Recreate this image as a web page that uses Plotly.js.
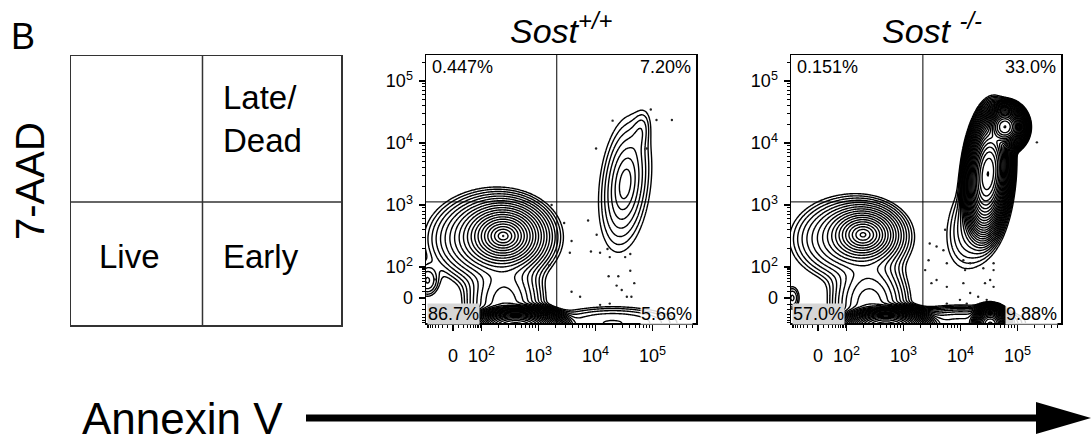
<!DOCTYPE html>
<html>
<head>
<meta charset="utf-8">
<script src="https://cdn.plot.ly/plotly-3.0.1.min.js"></script>
<style>
  html, body { margin: 0; padding: 0; background: #fff; }
  #chart { width: 1091px; height: 444px; }
</style>
</head>
<body>
<div id="chart"></div>
<script>
// ---------- axis ticks (fluorescence units) ----------
const majorTickValues = [0, 100, 1000, 10000, 100000];
const majorTickLabels = ['0', '10<sup>2</sup>', '10<sup>3</sup>', '10<sup>4</sup>', '10<sup>5</sup>'];

// ---------- quadrant frequencies: [UL, UR, LL, LR] ----------
const wtQuadrants = ['0.447%', '7.20%', '86.7%', '5.66%'];
const koQuadrants = ['0.151%', '33.0%', '57.0%', '9.88%'];

// ---------- cell populations on the display scale (decades) ----------
// Sost +/+ : live core, live body, annexin-/7AAD- floor, floor neck,
//            left cluster, late/dead, late/dead upper tail, early tail
const wtCx    = [0.88, 0.65, 1.10, 0.90, -0.45, 3.02, 3.30, 2.80];
const wtCy    = [1.00, 0.95, -0.46, -0.10, 0.28, 1.84, 2.70, -0.40];
const wtSx    = [0.11, 0.47, 0.24, 0.30, 0.12, 0.14, 0.10, 0.75];
const wtSy    = [0.08, 0.32, 0.09, 0.35, 0.15, 0.33, 0.20, 0.17];
const wtRho   = [0.00, 0.00, 0.00, 0.00, 0.00, 0.25, 0.30, 0.00];
const wtPeak  = [1.00, 0.020, 20.0, 0.02, 0.004, 0.011, 0.0015, 0.004];
const wtShape = [1.2, 2.0, 2.0, 2.0, 2.0, 1.3, 2.0, 2.5];

// Sost -/- : live core, live body, floor, floor neck, left cluster,
//            late/dead ridge, late/dead upper spot, late/dead skirt, early tail, early spot
const koCx    = [0.79, 0.55, 1.19, 0.90, -0.45, 2.98, 3.28, 2.78, 2.50, 3.02];
const koCy    = [1.02, 0.95, -0.46, -0.10, 0.00, 2.00, 2.76, 1.25, -0.40, -0.42];
const koSx    = [0.12, 0.45, 0.24, 0.30, 0.08, 0.12, 0.11, 0.20, 0.60, 0.10];
const koSy    = [0.085, 0.30, 0.09, 0.35, 0.12, 0.30, 0.11, 0.30, 0.15, 0.09];
const koRho   = [0.00, 0.00, 0.00, 0.00, 0.00, 0.20, 0.00, 0.30, 0.00, 0.00];
const koPeak  = [0.40, 0.015, 16.0, 0.02, 0.003, 8.0, 8.0, 0.008, 0.012, 3.0];
const koShape = [1.3, 2.0, 2.0, 2.0, 2.0, 2.0, 2.0, 1.5, 2.5, 2.0];

// ---------- outlier events on the display scale ----------
const wtEventX = [1.73, 1.95, 2.37, 2.08, 2.52, 2.05, 2.42, 2.58, 2.71, 2.75, 3.02, 3.11, 2.80, 2.51, 3.40, 3.47, 3.57, 3.84,
                  2.73, 2.90, 3.11, 2.87, 2.96, 3.18, 3.05, 3.13, 2.08, 2.23, 2.58, 2.75, 1.69, -0.32, 0.88];
const wtEventY = [1.50, 1.21, 1.25, 0.92, 1.02, 0.73, 0.75, 0.73, 0.79, 0.66, 0.66, 0.71, 2.86, 2.41, 2.41, 3.04, 2.87, 2.87,
                  0.35, 0.35, 0.44, 0.20, 0.13, 0.24, 0.02, 0.02, 0.10, 0.02, -0.11, -0.09, 0.53, 0.30, 1.00];
const koEventX = [1.96, 2.08, 2.20, 1.94, 2.26, 2.55, 2.67, 2.58, 2.90, 3.08, 3.08, 2.93, 3.08, 3.02, 2.08, 2.26, 2.55,
                  2.67, 2.81, 2.49, 2.26, 2.61, 2.96, 3.84, 1.88, 2.23, 1.99];
const koEventY = [0.88, 0.83, 0.77, 0.61, 0.56, 0.61, 0.56, 0.45, 0.48, 0.56, 0.45, 0.24, 0.18, 0.29, 0.29, 0.18, 0.24,
                  0.08, 0.02, -0.03, -0.09, -0.09, -0.03, 2.51, 0.45, 1.10, 0.24];

// ---------- display transform (biexponential-like) ----------
const LIN_W = 20;
function toDisplay(v) {
  const a = Math.abs(v), s = Math.sign(v);
  if (a >= 100) return s * (0.5 + Math.log10(a / 100));
  return 0.5 * Math.asinh(v / LIN_W) / Math.asinh(100 / LIN_W);
}
const X_RANGE = [-0.474, 4.263];
const Y_RANGE = [-0.403, 3.919];

function minorTicks(range) {
  const vals = [];
  for (let k = -90; k <= 90; k += 10) if (k !== 0) vals.push(k);
  for (let dec = 100; dec <= 100000; dec *= 10)
    for (let m = 2; m <= 9; m++) vals.push(m * dec);
  return vals.map(toDisplay).filter(d => d > range[0] && d < range[1]);
}

// ---------- density grid (log10 of summed population densities) ----------
function densityGrid(cx, cy, sx, sy, rho, peak, shape) {
  const nx = 240, ny = 220;
  const gx = [], gy = [], gz = [];
  for (let i = 0; i < nx; i++) gx.push(-0.52 + i * (4.32 + 0.52) / (nx - 1));
  for (let j = 0; j < ny; j++) gy.push(-0.44 + j * (3.96 + 0.44) / (ny - 1));
  for (let j = 0; j < ny; j++) {
    const row = [];
    for (let i = 0; i < nx; i++) {
      let d = 0;
      for (let k = 0; k < cx.length; k++) {
        const dx = (gx[i] - cx[k]) / sx[k], dy = (gy[j] - cy[k]) / sy[k];
        const q = (dx * dx - 2 * rho[k] * dx * dy + dy * dy) / (1 - rho[k] * rho[k]);
        d += peak[k] * Math.exp(-0.5 * Math.pow(q, shape[k] / 2));
      }
      row.push(Math.log10(d + 1e-9));
    }
    gz.push(row);
  }
  return {x: gx, y: gy, z: gz};
}

const wtGrid = densityGrid(wtCx, wtCy, wtSx, wtSy, wtRho, wtPeak, wtShape);
const koGrid = densityGrid(koCx, koCy, koSx, koSy, koRho, koPeak, koShape);

function contourTrace(g, xa, ya) {
  return {
    type: 'contour', x: g.x, y: g.y, z: g.z, xaxis: xa, yaxis: ya,
    autocontour: false, showscale: false, hoverinfo: 'skip',
    contours: {coloring: 'none', start: -3.0, end: 1.5, size: 0.15},
    line: {color: '#000', width: 1.4, smoothing: 0.6}
  };
}
function eventTrace(ex, ey, xa, ya) {
  return {
    type: 'scatter', mode: 'markers', x: ex, y: ey, xaxis: xa, yaxis: ya,
    marker: {size: 2.4, color: '#222'}, hoverinfo: 'skip'
  };
}

const data = [
  contourTrace(wtGrid, 'x', 'y'), eventTrace(wtEventX, wtEventY, 'x', 'y'),
  contourTrace(koGrid, 'x2', 'y2'), eventTrace(koEventX, koEventY, 'x2', 'y2')
];

// ---------- layout helpers (pixel -> paper) ----------
const W = 1091, H = 444;
const px = v => v / W;
const py = v => 1 - v / H;
const FONT = 'Liberation Sans, Arial, Helvetica, sans-serif';

const majorPos = majorTickValues.map(toDisplay);

function flowX(domain) {
  return {
    domain: domain, range: X_RANGE, showgrid: false, zeroline: false,
    showline: true, mirror: true, linecolor: '#000', linewidth: 1.5,
    ticks: 'outside', ticklen: 6, tickwidth: 1.2, tickcolor: '#000',
    tickmode: 'array', tickvals: majorPos, ticktext: majorTickLabels,
    ticklabelstandoff: 10,
    tickfont: {family: FONT, size: 18, color: '#000'},
    minor: {tickmode: 'array', tickvals: minorTicks(X_RANGE), ticks: 'outside', ticklen: 3, tickwidth: 1, tickcolor: '#000'},
    fixedrange: true
  };
}
function flowY(domain, anchor) {
  return {
    domain: domain, range: Y_RANGE, anchor: anchor, showgrid: false, zeroline: false,
    showline: true, mirror: true, linecolor: '#000', linewidth: 1.5,
    ticks: 'outside', ticklen: 6, tickwidth: 1.2, tickcolor: '#000',
    tickmode: 'array', tickvals: majorPos, ticktext: majorTickLabels,
    ticklabelstandoff: 2,
    tickfont: {family: FONT, size: 18, color: '#000'},
    minor: {tickmode: 'array', tickvals: minorTicks(Y_RANGE), ticks: 'outside', ticklen: 3, tickwidth: 1, tickcolor: '#000'},
    fixedrange: true
  };
}

const yDomain = [py(323), py(55)];
const layout = {
  width: W, height: H,
  margin: {l: 0, r: 0, t: 0, b: 0},
  paper_bgcolor: '#fff', plot_bgcolor: '#fff',
  showlegend: false,
  font: {family: FONT, color: '#000'},
  xaxis: Object.assign(flowX([px(426), px(696)]), {anchor: 'y'}),
  yaxis: flowY(yDomain, 'x'),
  xaxis2: Object.assign(flowX([px(791), px(1061)]), {anchor: 'y2'}),
  yaxis2: flowY(yDomain, 'x2'),
  xaxis3: {domain: [px(71), px(341)], range: [0, 1], anchor: 'y3', showgrid: false, zeroline: false,
           showline: true, mirror: true, linecolor: '#333', linewidth: 1.5, showticklabels: false, ticks: '', fixedrange: true},
  yaxis3: {domain: [py(325), py(56)], range: [0, 1], anchor: 'x3', showgrid: false, zeroline: false,
           showline: true, mirror: true, linecolor: '#333', linewidth: 1.5, showticklabels: false, ticks: '', fixedrange: true},
  shapes: [],
  annotations: []
};

// quadrant gates
function gates(xa, ya, gx, gy) {
  layout.shapes.push({type: 'line', xref: xa, yref: ya + ' domain', x0: gx, x1: gx, y0: 0, y1: 1, line: {color: '#000', width: 1}});
  layout.shapes.push({type: 'line', xref: xa + ' domain', yref: ya, x0: 0, x1: 1, y0: gy, y1: gy, line: {color: '#000', width: 1}});
}
gates('x', 'y', 1.82, 1.55);
gates('x2', 'y2', 1.84, 1.55);

// schematic quadrants
layout.shapes.push({type: 'line', xref: 'x3', yref: 'y3', x0: 0.487, x1: 0.487, y0: 0, y1: 1, line: {color: '#333', width: 1.5}});
layout.shapes.push({type: 'line', xref: 'x3', yref: 'y3', x0: 0, x1: 1, y0: 0.457, y1: 0.457, line: {color: '#333', width: 1.5}});

// Annexin V arrow
layout.shapes.push({type: 'line', xref: 'paper', yref: 'paper', x0: px(306), x1: px(1040), y0: py(418), y1: py(418), line: {color: '#000', width: 7}});
layout.shapes.push({type: 'path', xref: 'paper', yref: 'paper',
  path: `M ${px(1036)} ${py(402)} L ${px(1091)} ${py(418)} L ${px(1036)} ${py(434)} Z`,
  fillcolor: '#000', line: {color: '#000', width: 0}});

function ann(text, x, y, opts) {
  layout.annotations.push(Object.assign({
    text: text, x: px(x), y: py(y), xref: 'paper', yref: 'paper', showarrow: false,
    xanchor: 'center', yanchor: 'middle', font: {family: FONT, size: 16, color: '#000'}
  }, opts || {}));
}

// quadrant frequency labels
function quadrantLabels(vals, left, right) {
  const f = {family: FONT, size: 18, color: '#000'};
  ann(vals[0], left + 4, 67, {xanchor: 'left', font: f});
  ann(vals[1], right - 3, 67, {xanchor: 'right', font: f});
  ann(vals[2], left + 1, 314, {xanchor: 'left', bgcolor: '#d6d6d6', borderpad: 0, font: f});
  ann(vals[3], right - 3, 314, {xanchor: 'right', bgcolor: 'rgba(255,255,255,0.85)', borderpad: 0, font: f});
}
quadrantLabels(wtQuadrants, 426, 696);
quadrantLabels(koQuadrants, 791, 1061);

// titles and labels
ann('<i>Sost<sup>+/+</sup></i>', 561, 28, {font: {family: FONT, size: 34, color: '#000'}});
ann('<i>Sost</i> <i><sup>-/-</sup></i>', 932, 28, {font: {family: FONT, size: 34, color: '#000'}});
ann('B', 23, 36, {font: {family: FONT, size: 36, color: '#000'}});
ann('7-AAD', 30, 181, {textangle: -90, font: {family: FONT, size: 40, color: '#000'}});
ann('Late/<br>Dead', 221, 119, {xanchor: 'left', align: 'left', font: {family: FONT, size: 33, color: '#000'}});
ann('Live', 97, 256, {xanchor: 'left', font: {family: FONT, size: 33, color: '#000'}});
ann('Early', 221, 256, {xanchor: 'left', font: {family: FONT, size: 33, color: '#000'}});
ann('Annexin V', 80, 418, {xanchor: 'left', font: {family: FONT, size: 44, color: '#000'}});

Plotly.newPlot('chart', data, layout, {staticPlot: true, displayModeBar: false});
</script>
</body>
</html>
